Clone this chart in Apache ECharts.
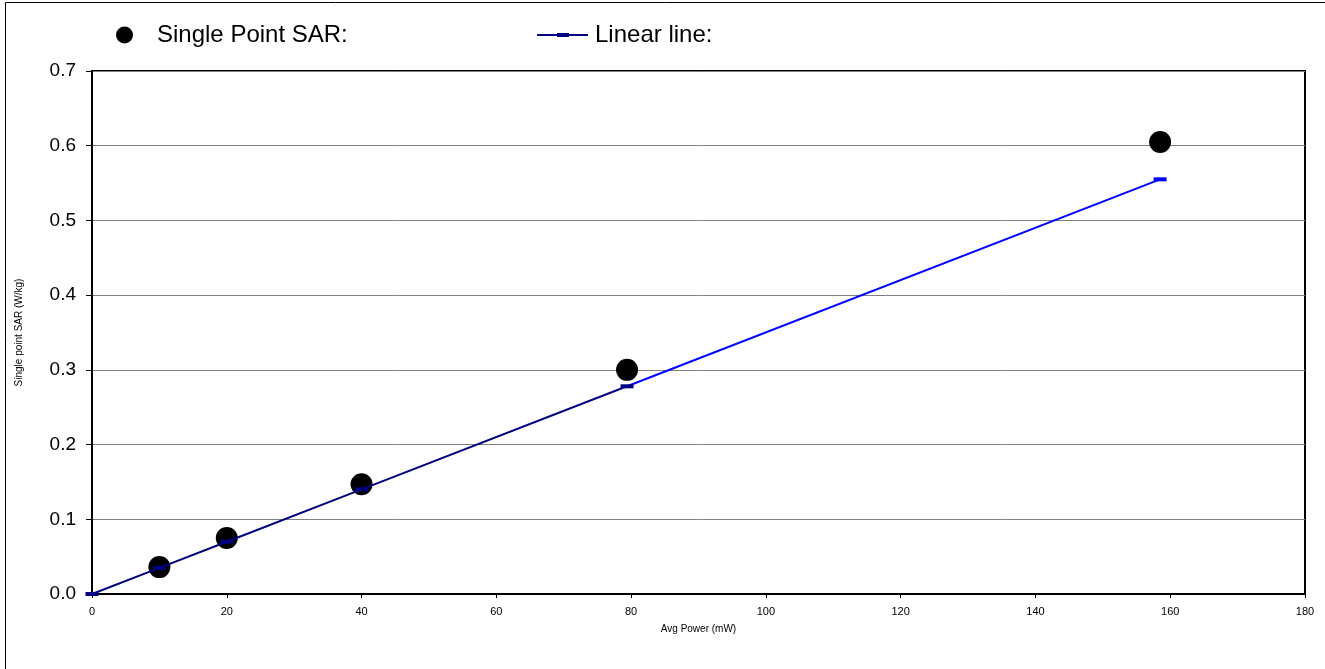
<!DOCTYPE html>
<html>
<head>
<meta charset="utf-8">
<script src="https://cdn.jsdelivr.net/npm/echarts@6/dist/echarts.min.js"></script>
<style>
html,body{margin:0;padding:0;background:#fff;}
#chart{width:1325px;height:669px;}
</style>
</head>
<body>
<div id="chart"></div>
<script>
// Data
const sarX = [10, 20, 40, 79.4, 158.5];
const sarY = [0.036, 0.075, 0.147, 0.300, 0.605];
const lineX = [0, 10, 20, 40, 79.4, 158.5];
const lineY = [0, 0.035, 0.070, 0.140, 0.278, 0.555];
const xTicks = [0, 20, 40, 60, 80, 100, 120, 140, 160, 180];
const yTicks = [0, 0.1, 0.2, 0.3, 0.4, 0.5, 0.6, 0.7];

const pairs = (xs, ys) => xs.map((x, i) => [x, ys[i]]);
const lineData = pairs(lineX, lineY);
const navyData = lineData.slice(0, 5);
const blueData = lineData.slice(4);

const FONT = "Arial, 'Liberation Sans', sans-serif";
const chart = echarts.init(document.getElementById('chart'), null, {renderer: 'canvas'});
chart.setOption({
  animation: false,
  backgroundColor: '#fff',
  graphic: [{
    type: 'rect', silent: true, z: -10,
    shape: {x: 5.5, y: 2.5, width: 1322, height: 670},
    style: {fill: 'none', stroke: '#000', lineWidth: 1}
  }],
  legend: [{
    data: [{name: 'Single Point SAR:', icon: 'circle', itemStyle: {color: '#000', opacity: 1}}],
    left: 116, top: 23, padding: 0,
    itemWidth: 17, itemHeight: 17,
    textStyle: {fontFamily: FONT, fontSize: 24, color: '#000', padding: [0, 0, 0, 19]}
  }, {
    data: [{name: 'Linear line:',
      icon: 'path://M0,1.1 L51,1.1 L51,2.9 L0,2.9 Z M20,0 L32,0 L32,4 L20,4 Z',
      itemStyle: {color: '#000080'}}],
    left: 537, top: 23, padding: 0,
    itemWidth: 51, itemHeight: 4,
    textStyle: {fontFamily: FONT, fontSize: 24, color: '#000', padding: [0, 0, 0, 2]}
  }],
  grid: {
    left: 92, right: 20, top: 71, bottom: 75,
    show: true, borderColor: '#000', borderWidth: 2, backgroundColor: '#fff'
  },
  xAxis: {
    type: 'value', min: xTicks[0], max: xTicks[xTicks.length - 1], interval: 20,
    name: 'Avg Power (mW)', nameLocation: 'middle', nameGap: 30,
    nameTextStyle: {fontFamily: FONT, fontSize: 10, color: '#000'},
    axisLine: {show: true, lineStyle: {color: '#000', width: 2}},
    axisTick: {show: true, inside: false, length: 4, lineStyle: {color: '#000'}},
    axisLabel: {fontFamily: FONT, fontSize: 11, color: '#000', margin: 12},
    splitLine: {show: false}
  },
  yAxis: {
    type: 'value', min: yTicks[0], max: yTicks[yTicks.length - 1], interval: 0.1,
    name: 'Single point SAR (W/kg)', nameLocation: 'middle', nameGap: 68,
    nameTextStyle: {fontFamily: FONT, fontSize: 10, color: '#000'},
    axisLine: {show: true, lineStyle: {color: '#000', width: 2}},
    axisTick: {show: true, inside: false, length: 6, lineStyle: {color: '#000'}},
    axisLabel: {fontFamily: FONT, fontSize: 19, color: '#000', margin: 16,
      formatter: v => v.toFixed(1)},
    splitLine: {show: true, lineStyle: {color: '#808080', width: 1}}
  },
  series: [{
    name: 'Single Point SAR:', type: 'scatter',
    data: pairs(sarX, sarY),
    symbol: 'circle', symbolSize: 22,
    itemStyle: {color: '#000', opacity: 1}, z: 2
  }, {
    name: 'Linear line:', type: 'line',
    data: navyData,
    symbol: 'rect', symbolSize: [13, 4], showAllSymbol: true,
    lineStyle: {color: '#000080', width: 2},
    itemStyle: {color: '#000080'},
    clip: false, z: 3
  }, {
    name: 'Linear line (cont.)', type: 'line',
    data: blueData,
    symbol: (v, p) => p.dataIndex === 0 ? 'none' : 'rect',
    symbolSize: [13, 4], showAllSymbol: true,
    lineStyle: {color: '#0000FF', width: 2},
    itemStyle: {color: '#0000FF'},
    clip: false, z: 3
  }]
});
</script>
</body>
</html>
